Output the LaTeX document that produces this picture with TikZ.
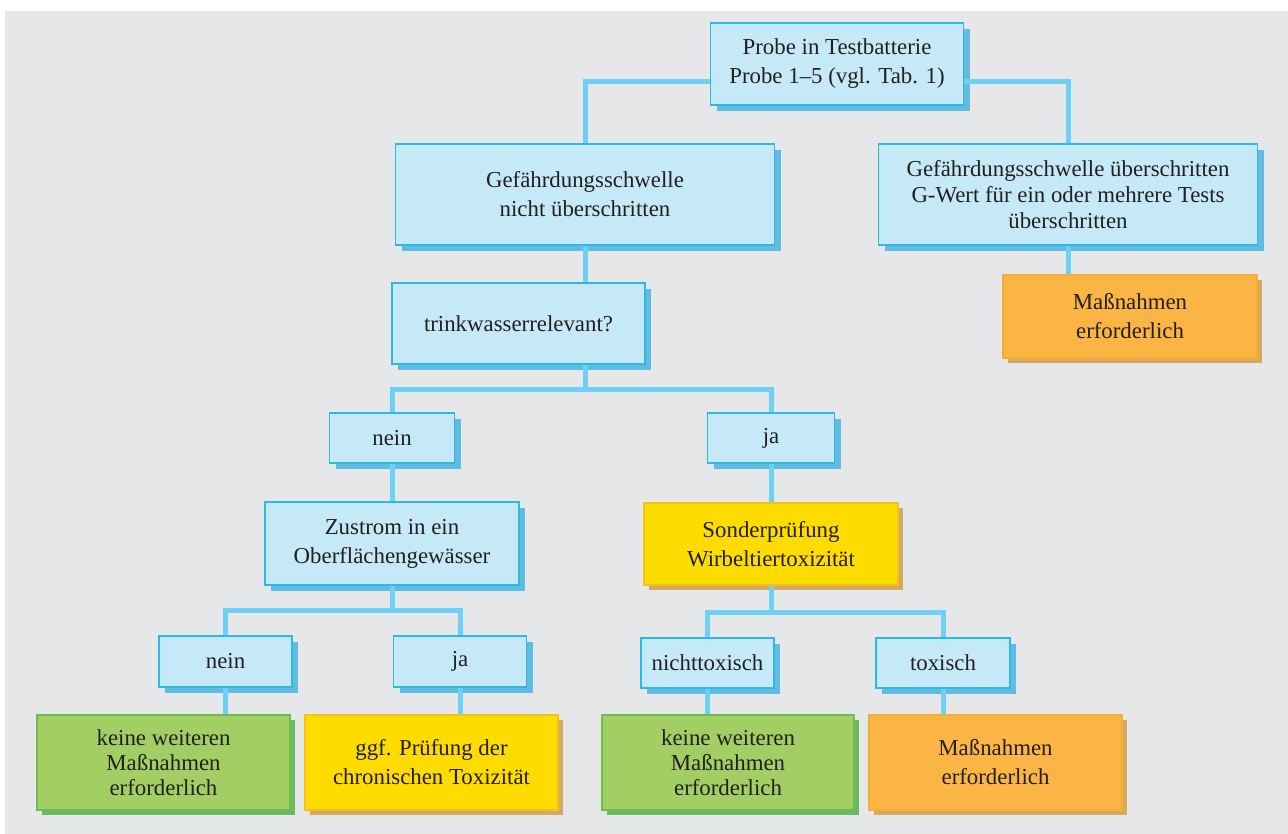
\documentclass[tikz,border=0pt]{standalone}
\usepackage{fontspec}
\setmainfont{Liberation Serif}
\usetikzlibrary{calc}
\usetikzlibrary{shadows}

\definecolor{bgrey}{HTML}{E6E7E9}
\definecolor{boxblue}{HTML}{C6E9F8}
\definecolor{rimblue}{HTML}{2BB9EC}
\definecolor{shblue}{HTML}{62BCE1}
\definecolor{linkblue}{HTML}{6DD0F5}
\definecolor{boxorange}{HTML}{FBB545}
\definecolor{rimorange}{HTML}{F7AE2F}
\definecolor{boxyellow}{HTML}{FFDC00}
\definecolor{rimyellow}{HTML}{F6C01C}
\definecolor{shtan}{HTML}{D3A964}
\definecolor{boxgreen}{HTML}{A3CE63}
\definecolor{rimgreen}{HTML}{6ABE4C}
\definecolor{shgreen}{HTML}{6CB864}
\definecolor{ink}{HTML}{231F20}

\tikzset{
  sz/.style 2 args={minimum width=#1*0.02cm, minimum height=#2*0.02cm},
  base/.style={rectangle, line width=0.8pt, align=center, text=ink, inner sep=0pt,
    font=\fontsize{13}{16.5}\selectfont},
  tight/.style={font=\fontsize{13}{14.2}\selectfont},
  box/.style={base, draw=rimblue, fill=boxblue,
    drop shadow={shadow xshift=0.12cm, shadow yshift=-0.12cm, fill=shblue, opacity=1}},
  warnbox/.style={base, draw=rimorange, fill=boxorange,
    drop shadow={shadow xshift=0.1cm, shadow yshift=-0.1cm, fill=shtan, opacity=1}},
  testbox/.style={base, draw=rimyellow, fill=boxyellow,
    drop shadow={shadow xshift=0.1cm, shadow yshift=-0.1cm, fill=shtan, opacity=1}},
  okbox/.style={base, draw=rimgreen, fill=boxgreen,
    drop shadow={shadow xshift=0.1cm, shadow yshift=-0.1cm, fill=shgreen, opacity=1}},
  link/.style={draw=linkblue, line width=0.1cm},
}

\begin{document}
\begin{tikzpicture}[x=0.02cm, y=-0.02cm]
\useasboundingbox (0,0) rectangle (1288,834);
\fill[bgrey] (5,11) rectangle (1288,834);

% first levels
\node[box, sz={253}{82}] (probe) at (837,64) {Probe in Testbatterie\\Probe 1--5 (vgl. Tab. 1)};
\node[box, sz={379}{101}] (gefN) at (585,194.5) {Gefährdungsschwelle\\nicht überschritten};
\node[box, sz={379}{101}, font=\fontsize{13}{15}\selectfont] (gefU) at (1068,194.5) {Gefährdungsschwelle überschritten\\G-Wert für ein oder mehrere Tests\\überschritten};
\node[warnbox, sz={254}{83}] (massA) at (1130,316.5) {Maßnahmen\\erforderlich};
\node[box, sz={253}{81}] (trink) at (518.5,323.5) {trinkwasserrelevant?};

% nein / ja
\node[box, sz={125}{50}] (nein1) at (392,438) {nein};
\node[box, sz={127}{50}] (ja1) at (771,438) {ja};
\node[box, sz={254}{83}] (zustrom) at (392,543.5) {Zustrom in ein\\Oberflächengewässer};
\node[testbox, sz={254}{82}] (sonder) at (771,544) {Sonderprüfung\\Wirbeltiertoxizität};

\node[box, sz={133}{51}] (nein2) at (225.5,661.5) {nein};
\node[box, sz={133}{51}] (ja2) at (460,661.5) {ja};
\node[box, sz={133}{50}] (nicht) at (707.5,663) {nichttoxisch};
\node[box, sz={134}{50}] (toxisch) at (943,663) {toxisch};

% bottom row
\node[okbox, tight, sz={253}{95}] (keine1) at (163.5,762.5) {keine weiteren\\Maßnahmen\\erforderlich};
\node[testbox, sz={253}{95}] (ggf) at (431.5,762.5) {ggf. Prüfung der\\chronischen Toxizität};
\node[okbox, tight, sz={252}{95}] (keine2) at (728,762.5) {keine weiteren\\Maßnahmen\\erforderlich};
\node[warnbox, sz={253}{95}] (massB) at (995.5,762.5) {Maßnahmen\\erforderlich};

% connectors
\draw[link] ($(probe.west)+(0,18)$) -| (gefN.north);
\draw[link] ($(probe.east)+(0,18)$) -| (gefU.north);
\draw[link] (gefU.south) -- (gefU.south |- massA.north);
\draw[link] (gefN.south) -- (gefN.south |- trink.north);
\draw[link] (trink.south -| gefN.south) -- ++(0,25) coordinate (b1);
\draw[link] (nein1.north) |- (b1) -| (ja1.north);
\draw[link] (nein1.south) -- (zustrom.north);
\draw[link] (ja1.south) -- (sonder.north);
\draw[link] (zustrom.south) -- ++(0,25) coordinate (b2);
\draw[link] (nein2.north) |- (b2) -| (ja2.north);
\draw[link] (sonder.south) -- ++(0,27) coordinate (b3);
\draw[link] (nicht.north) |- (b3) -| (toxisch.north);
\draw[link] (nein2.south) -- (nein2.south |- keine1.north);
\draw[link] (ja2.south) -- (ja2.south |- ggf.north);
\draw[link] (nicht.south) -- (nicht.south |- keine2.north);
\draw[link] (toxisch.south) -- (toxisch.south |- massB.north);
\end{tikzpicture}
\end{document}
